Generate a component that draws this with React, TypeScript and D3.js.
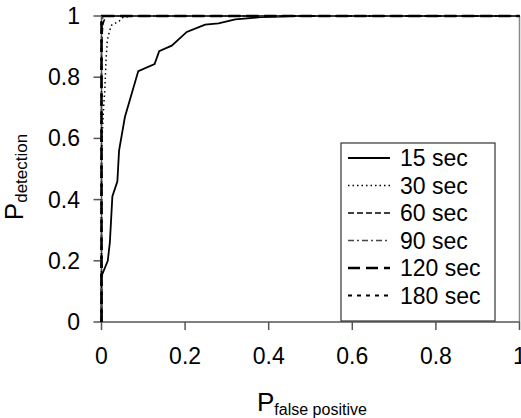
import React from "react";
import * as d3 from "d3";

type Pt = [number, number];

const series15: Pt[] = [[0,0],[0,0.15],[0.015,0.2],[0.02,0.26],[0.026,0.41],[0.038,0.46],[0.042,0.56],[0.056,0.67],[0.088,0.82],[0.127,0.843],[0.138,0.885],[0.168,0.903],[0.204,0.948],[0.23,0.962],[0.248,0.972],[0.28,0.976],[0.32,0.989],[0.38,0.996],[0.43,0.998],[0.45,1],[1,1]];
const series30: Pt[] = [[0,0],[0,0.5],[0.002,0.62],[0.005,0.7],[0.008,0.76],[0.011,0.86],[0.014,0.92],[0.019,0.95],[0.024,0.97],[0.042,0.983],[0.052,0.996],[0.08,1],[1,1]];
const series60: Pt[] = [[0,0],[0,0.9],[0.003,0.97],[0.006,0.985],[0.012,1],[1,1]];
const series90: Pt[] = [[0,0],[0,0.95],[0.002,0.99],[0.005,1],[1,1]];
const series120: Pt[] = [[0,0],[0,0.98],[0.002,1],[1,1]];
const series180: Pt[] = [[0,0],[0,0.99],[0.001,1],[1,1]];

const legendLabels = ["15 sec", "30 sec", "60 sec", "90 sec", "120 sec", "180 sec"];
const xTicks = [0, 0.2, 0.4, 0.6, 0.8, 1];
const yTicks = [0, 0.2, 0.4, 0.6, 0.8, 1];

const styles = [
  { dash: "", width: 1.8, color: "#000" },
  { dash: "1.5,3", width: 1.5, color: "#000" },
  { dash: "6,3", width: 1.5, color: "#000" },
  { dash: "6,3,2,3", width: 1.5, color: "#444" },
  { dash: "12,6", width: 2.5, color: "#000" },
  { dash: "4,5", width: 2, color: "#000" },
];

const FONT = "'Liberation Sans', Arial, sans-serif";

export default function App() {
  const W = 521, H = 418;
  const x = d3.scaleLinear().domain([0, 1]).range([101.5, 519.5]);
  const y = d3.scaleLinear().domain([0, 1]).range([322, 16]);
  const line = d3.line<Pt>().x(d => x(d[0])).y(d => y(d[1]));
  const all = [series15, series30, series60, series90, series120, series180];

  const legX = 341, legW = 154, legTop = 143, legBottom = 321;
  const legStep = 27.5, legFirst = 158;

  return (
    <svg width={W} height={H} style={{ position: "absolute", left: 0, top: 0 }} fontFamily={FONT}>
      <rect x={0} y={0} width={W} height={H} fill="#fff" />
      {/* plot border */}
      <line x1={x(0)} x2={x(1)} y1={y(1)} y2={y(1)} stroke="#888" strokeWidth={1.5} />
      <line x1={x(1)} x2={x(1)} y1={y(1)} y2={y(0)} stroke="#888" strokeWidth={1.5} />
      {/* axes */}
      <line x1={x(0)} x2={x(1)} y1={y(0)} y2={y(0)} stroke="#555" strokeWidth={1.5} />
      <line x1={x(0)} x2={x(0)} y1={y(0)} y2={y(1)} stroke="#555" strokeWidth={1.5} />
      {xTicks.map(t => (
        <g key={"x" + t}>
          <line x1={x(t)} x2={x(t)} y1={y(0)} y2={y(0) + 8} stroke="#555" strokeWidth={1.5} />
          <text x={x(t)} y={364} fontSize={23} textAnchor="middle" fill="#000">{String(t)}</text>
        </g>
      ))}
      {yTicks.map(t => (
        <g key={"y" + t}>
          <line x1={x(0) - 8} x2={x(0)} y1={y(t)} y2={y(t)} stroke="#555" strokeWidth={1.5} />
          <text x={80} y={y(t) + 8} fontSize={23} textAnchor="end" fill="#000">{String(t)}</text>
        </g>
      ))}
      {/* curves */}
      {all.map((s, i) => (
        <path key={"s" + i} d={line(s) || ""} fill="none" stroke={styles[i].color}
          strokeWidth={styles[i].width} strokeDasharray={styles[i].dash} />
      ))}
      {/* axis titles */}
      <text x={257} y={411} fontSize={26} fill="#000">P<tspan fontSize={16} dy={4}>false positive</tspan></text>
      <text transform="translate(23,177) rotate(-90)" textAnchor="middle" fontSize={26} fill="#000">P<tspan fontSize={17} dy={4}>detection</tspan></text>
      {/* legend */}
      <rect x={legX} y={legTop} width={legW} height={legBottom - legTop} fill="#fff" stroke="#333" strokeWidth={1.2} />
      {legendLabels.map((l, i) => {
        const cy = legFirst + i * legStep;
        return (
          <g key={l}>
            <line x1={348} x2={390} y1={cy} y2={cy} stroke={styles[i].color}
              strokeWidth={styles[i].width} strokeDasharray={styles[i].dash} />
            <text x={400} y={cy + 8} fontSize={23} fill="#000">{l}</text>
          </g>
        );
      })}
    </svg>
  );
}
